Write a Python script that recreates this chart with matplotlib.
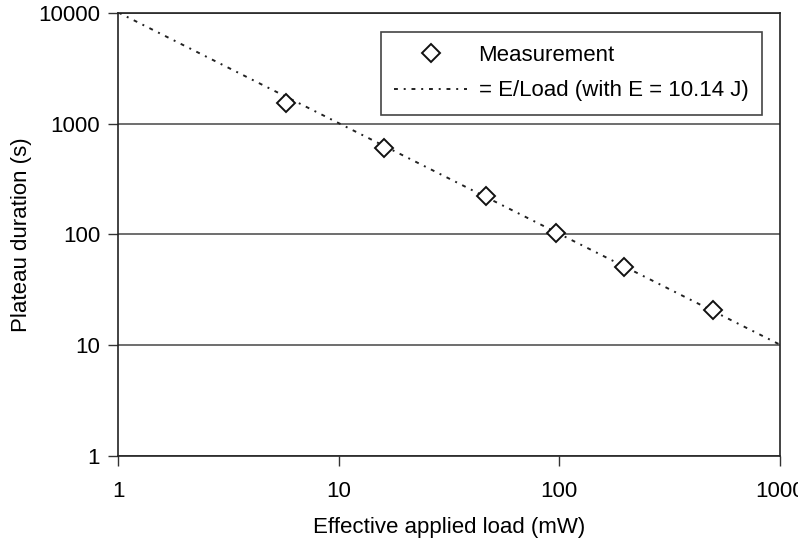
import numpy as np
import matplotlib
matplotlib.use('Agg')
import matplotlib.pyplot as plt

plt.rcParams['font.family'] = ['Liberation Sans', 'DejaVu Sans']

# measured points
load_mw = [5.8, 16.1, 46.4, 96.5, 197, 501]
duration_s = [1530, 600, 221, 104, 51.2, 20.9]

# model line: t = E / Load
energy_j = 10.14
line_load = [1, 1000]

xticks = [1, 10, 100, 1000]
xtick_labels = ['1', '10', '100', '1000']
yticks = [1, 10, 100, 1000, 10000]
ytick_labels = ['1', '10', '100', '1000', '10000']

fig = plt.figure(figsize=(7.98, 5.44), dpi=100)
ax = fig.add_axes([0.148, 0.162, 0.829, 0.814])

ax.set_xscale('log')
ax.set_yscale('log')

ax.grid(axis='y', which='major', color='#555555', linewidth=1.2)
ax.set_axisbelow(True)

xs = np.logspace(np.log10(line_load[0]), np.log10(line_load[1]), 200)
ax.plot(xs, energy_j * 1000 / xs, color='#222222', linewidth=1.4,
        linestyle=(0, (2.0, 3.0, 1.0, 3.0)), label='= E/Load (with E = 10.14 J)', zorder=2)
ax.plot(load_mw, duration_s, linestyle='none', marker='D', markersize=9.5,
        markerfacecolor='white', markeredgecolor='#111111', markeredgewidth=1.4,
        label='Measurement', zorder=3)

ax.set_xlim(1, 1000)
ax.set_ylim(1, 10000)
ax.set_xticks(xticks)
ax.set_xticklabels(xtick_labels)
ax.set_yticks(yticks)
ax.set_yticklabels(ytick_labels)
ax.minorticks_off()
ax.tick_params(axis='both', labelsize=16, length=7, width=1, color='#333333', pad=6)
ax.tick_params(axis='x', pad=11)

for s in ax.spines.values():
    s.set_color('#222222')
    s.set_linewidth(1.2)

ax.set_xlabel('Effective applied load (mW)', fontsize=16, labelpad=11)
ax.set_ylabel('Plateau duration (s)', fontsize=16, labelpad=4)

handles, labels = ax.get_legend_handles_labels()
leg = ax.legend(handles[::-1], labels[::-1], loc='upper left',
                bbox_to_anchor=(0.397, 0.958), borderaxespad=0,
                fontsize=16, numpoints=1, handlelength=3.3, handletextpad=0.5,
                fancybox=False, framealpha=1, edgecolor='#444444',
                borderpad=0.6, labelspacing=0.65)
leg.get_frame().set_linewidth(1.2)

plt.savefig('out.png', dpi=100)
